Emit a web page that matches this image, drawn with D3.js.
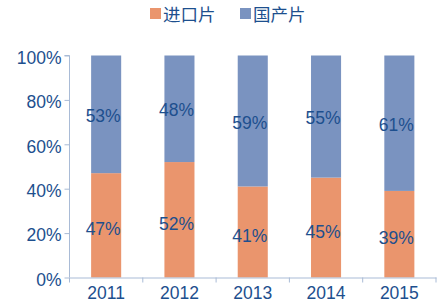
<!DOCTYPE html>
<html>
<head>
<meta charset="utf-8">
<script src="https://cdn.jsdelivr.net/npm/d3@7"></script>
<style>
  body { margin: 0; background: #fff; }
  svg { display: block; font-family: "Liberation Sans", Arial, sans-serif; }
</style>
</head>
<body>
<svg id="chart" width="440" height="307"></svg>
<script>
const years = ["2011", "2012", "2013", "2014", "2015"];
const imported = [47, 52, 41, 45, 39];
const domestic = [53, 48, 59, 55, 61];
const seriesNames = ["进口片", "国产片"];
const yTicks = [0, 20, 40, 60, 80, 100];

const width = 440,
  height = 307,
  margin = { top: 55.5, right: 4, bottom: 29.5, left: 69.5 },
  colors = ["#EA956D", "#7A93C0"],
  textColor = "#1D4F8E",
  axisColor = "#A9BBD6";

const svg = d3.select("#chart");

const x = d3
  .scaleBand()
  .domain(years)
  .range([margin.left, width - margin.right])
  .paddingInner(0.59)
  .paddingOuter(0.295);

const y = d3
  .scaleLinear()
  .domain([0, 100])
  .range([height - margin.bottom, margin.top]);

const rows = years.map((yr, i) => ({ year: yr, a: imported[i], b: domestic[i] }));
const stacked = d3.stack().keys(["a", "b"])(rows);

// bars
svg
  .selectAll("g.layer")
  .data(stacked)
  .enter()
  .append("g")
  .attr("class", "layer")
  .attr("fill", (d, i) => colors[i])
  .selectAll("rect")
  .data(d => d)
  .enter()
  .append("rect")
  .attr("x", d => x(d.data.year))
  .attr("width", x.bandwidth())
  .attr("y", d => y(d[1]))
  .attr("height", d => y(d[0]) - y(d[1]));

// value labels
stacked.forEach((layer, li) => {
  svg
    .append("g")
    .selectAll("text")
    .data(layer)
    .enter()
    .append("text")
    .attr("x", d => x(d.data.year) + x.bandwidth() / 2 - 3)
    .attr("y", d => (y(d[0]) + y(d[1])) / 2 + (li === 0 ? 4 : 1.5))
    .attr("dy", "0.35em")
    .attr("text-anchor", "middle")
    .attr("fill", textColor)
    .attr("font-size", 17.5)
    .text(d => (d[1] - d[0]) + "%");
});

// y axis
const yAxis = svg
  .append("g")
  .attr("transform", `translate(${margin.left},0)`)
  .call(
    d3.axisLeft(y)
      .tickValues(yTicks)
      .tickSize(5)
      .tickPadding(3)
      .tickFormat(d => d + "%")
  );
yAxis.select(".domain").attr("stroke", axisColor).attr("d", `M-5,${y(100)}H0V${y(0)}`);
yAxis.selectAll(".tick line").attr("stroke", axisColor);
yAxis.selectAll(".tick text")
  .attr("fill", textColor)
  .attr("font-size", 17.5)
  .attr("dy", "0.45em")
  .attr("font-family", "Liberation Sans, Arial, sans-serif");

// x axis
const xAxis = svg
  .append("g")
  .attr("transform", `translate(0,${y(0)})`)
  .call(d3.axisBottom(x).tickSize(0).tickPadding(9));
xAxis.select(".domain").attr("stroke", axisColor);
xAxis.selectAll(".tick text")
  .attr("fill", textColor)
  .attr("font-size", 17.5)
  .attr("font-family", "Liberation Sans, Arial, sans-serif");

// category separators
const step = x.step();
svg
  .append("g")
  .selectAll("line")
  .data(d3.range(years.length + 1))
  .enter()
  .append("line")
  .attr("x1", i => margin.left + i * step)
  .attr("x2", i => margin.left + i * step)
  .attr("y1", y(0))
  .attr("y2", y(0) + 5)
  .attr("stroke", axisColor);

// legend
const legend = svg.append("g").attr("transform", "translate(150,8)");
const items = legend
  .selectAll("g")
  .data(seriesNames)
  .enter()
  .append("g")
  .attr("transform", (d, i) => `translate(${i * 90},0)`);
items
  .append("rect")
  .attr("width", 11)
  .attr("height", 11)
  .attr("y", 0)
  .attr("fill", (d, i) => colors[i]);
items
  .append("text")
  .attr("x", 13)
  .attr("y", 13)
  .attr("fill", textColor)
  .attr("font-size", 17.5)
  .attr("font-family", "Noto Sans CJK SC, sans-serif")
  .text(d => d);
</script>
</body>
</html>
